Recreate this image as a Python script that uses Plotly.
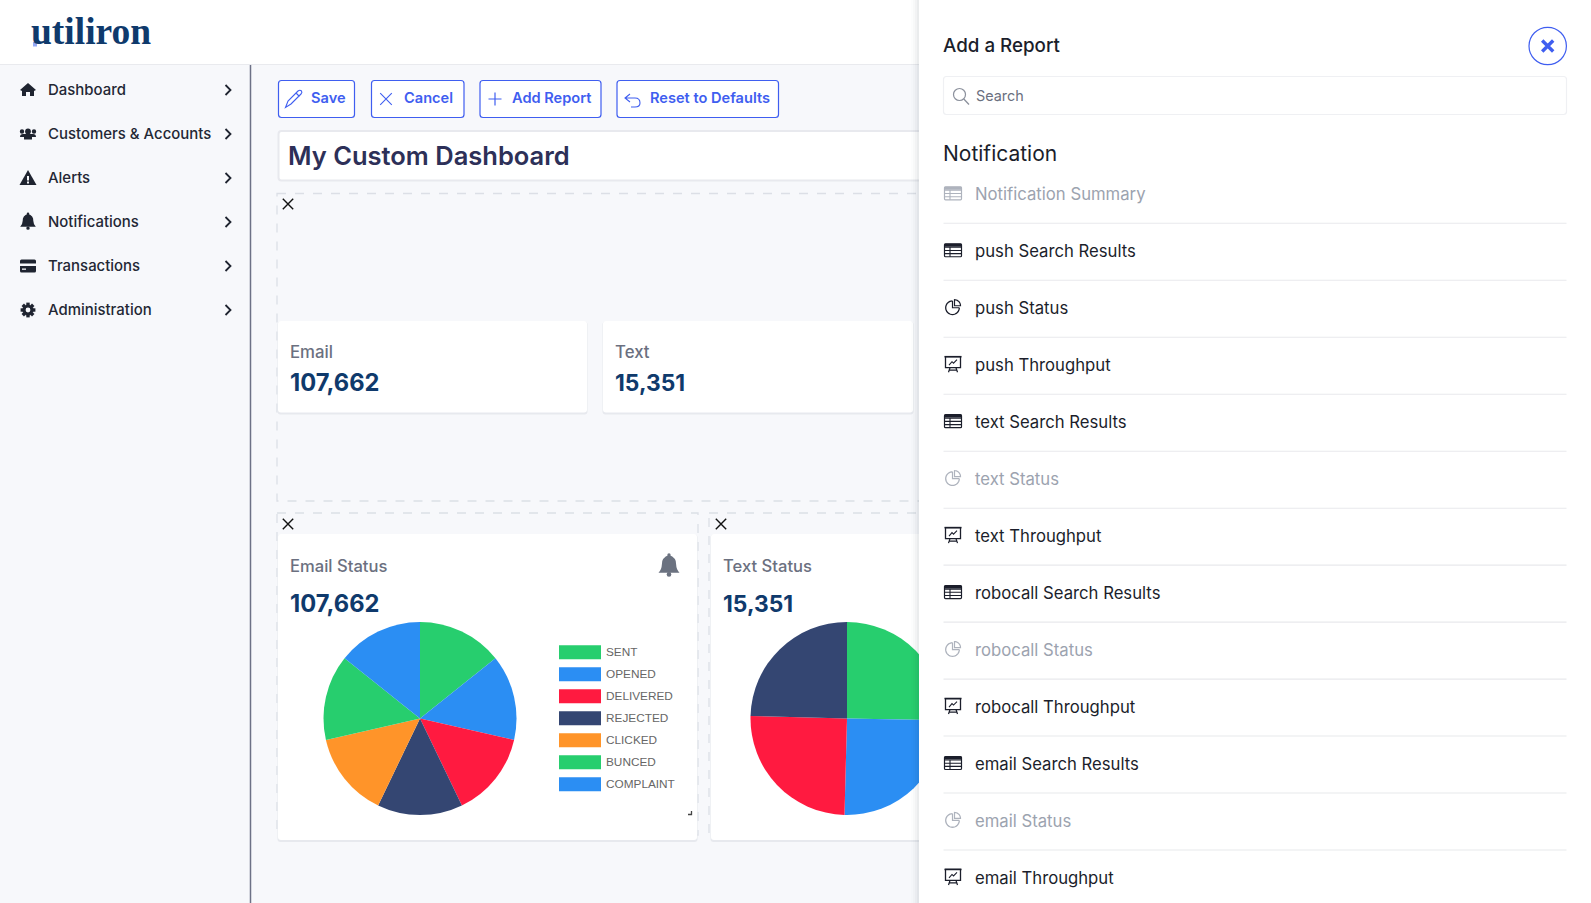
import math
import plotly.graph_objects as go

# ---------- data ----------
status_colors = ["#27ce6e", "#2b8ef3", "#ff1a40", "#344672", "#ff9429", "#27ce6e", "#2b8ef3"]
email_labels = ["SENT", "OPENED", "DELIVERED", "REJECTED", "CLICKED", "BUNCED", "COMPLAINT"]
email_values = [15380, 15380, 15380, 15380, 15380, 15381, 15381]
text_labels = ["SENT", "OPENED", "DELIVERED", "REJECTED"]
text_values = [3880, 3859, 3838, 3774]
text_colors = ["#27ce6e", "#2b8ef3", "#ff1a40", "#344672"]

nav_items = ["Dashboard", "Customers & Accounts", "Alerts", "Notifications", "Transactions", "Administration"]
nav_icons = ["home", "users", "alert", "bell", "card", "gear"]
buttons = ["Save", "Cancel", "Add Report", "Reset to Defaults"]
report_names = ["Notification Summary", "push Search Results", "push Status", "push Throughput",
                "text Search Results", "text Status", "text Throughput", "robocall Search Results",
                "robocall Status", "robocall Throughput", "email Search Results", "email Status",
                "email Throughput"]
report_kinds = ["table", "table", "pie", "chart", "table", "pie", "chart", "table", "pie", "chart",
                "table", "pie", "chart"]
report_muted = [True, False, False, False, False, True, False, False, True, False, False, True, False]

# ---------- style ----------
FONT = "Inter"
W, H = 1591, 903
BG = "#f7f8fb"
BLUE = "#3f5ef0"
NAVY = "#0f3a6c"
DARK = "#1b1e2b"
MUTED = "#9ca3af"
GREY = "#6b7080"

shapes, notes = [], []


def path(d, fill=None, line=None, w=1.0, layer="above", dash=None):
    shapes.append(dict(type="path", path=d, xref="x", yref="y", layer=layer,
                       fillcolor=fill or "rgba(0,0,0,0)",
                       line=dict(color=line or "rgba(0,0,0,0)", width=w if line else 0, dash=dash or "solid")))


def rect(x0, y0, x1, y1, fill=None, line=None, w=1.0, r=0, layer="below", dash=None):
    if r:
        d = (f"M{x0+r},{y0} H{x1-r} Q{x1},{y0} {x1},{y0+r} V{y1-r} Q{x1},{y1} {x1-r},{y1} "
             f"H{x0+r} Q{x0},{y1} {x0},{y1-r} V{y0+r} Q{x0},{y0} {x0+r},{y0} Z")
    else:
        d = f"M{x0},{y0} H{x1} V{y1} H{x0} Z"
    path(d, fill, line, w, layer, dash)


def circle(cx, cy, r, fill=None, line=None, w=1.0, layer="above", ry=None):
    ry = ry or r
    shapes.append(dict(type="circle", xref="x", yref="y", x0=cx-r, x1=cx+r, y0=cy-ry, y1=cy+ry, layer=layer,
                       fillcolor=fill or "rgba(0,0,0,0)",
                       line=dict(color=line or "rgba(0,0,0,0)", width=w if line else 0)))


def text(x, y, s, size, color, weight=400, family=FONT, anchor="left"):
    notes.append(dict(x=x, y=y, xref="x", yref="y", text=s, showarrow=False, xanchor=anchor, yanchor="middle",
                      font=dict(family=family, size=size, color=color, weight=weight),
                      xshift=0, yshift=0, borderpad=0, borderwidth=0))


def arc(cx, cy, r, a0, a1, n=24):
    pts = []
    for i in range(n + 1):
        a = math.radians(a0 + (a1 - a0) * i / n)
        pts.append((cx + r * math.sin(a), cy - r * math.cos(a)))
    return pts


def poly(pts, close=False):
    return "M" + " L".join(f"{x:.2f},{y:.2f}" for x, y in pts) + (" Z" if close else "")


def cross(cx, cy, s, color, w=1.5, layer="above"):
    path(f"M{cx-s},{cy-s} L{cx+s},{cy+s} M{cx+s},{cy-s} L{cx-s},{cy+s}", None, color, w, layer)


def bell(cx, cy, s, color, layer="above"):
    path(f"M{cx},{cy-s} Q{cx+s*0.72},{cy-s*0.75} {cx+s*0.68},{cy-s*0.1} Q{cx+s*0.7},{cy+s*0.4} {cx+s},{cy+s*0.68} "
         f"L{cx-s},{cy+s*0.68} Q{cx-s*0.7},{cy+s*0.4} {cx-s*0.68},{cy-s*0.1} Q{cx-s*0.72},{cy-s*0.75} {cx},{cy-s} Z",
         color, None, 0, layer)
    circle(cx, cy + s * 0.85, s * 0.22, color, layer=layer)
    circle(cx, cy - s, s * 0.16, color, layer=layer)


def nav_icon(kind, cx, cy):
    c = "#1f2430"
    if kind == "home":
        path(f"M{cx-8},{cy} L{cx},{cy-7} L{cx+8},{cy} L{cx+6},{cy+1} V{cy+6} H{cx+2} V{cy+2} H{cx-2} V{cy+6} H{cx-6} V{cy+1} Z", c)
    elif kind == "users":
        for dx, r in [(-6, 2.2), (6, 2.2), (0, 2.9)]:
            circle(cx + dx, cy - 2.5, r, c)
        path(f"M{cx-8},{cy+3} Q{cx-8},{cy} {cx-5},{cy} H{cx+5} Q{cx+8},{cy} {cx+8},{cy+3} H{cx+4} V{cy+5.5} H{cx-4} V{cy+3} Z", c)
    elif kind == "alert":
        path(f"M{cx},{cy-8} L{cx+8.5},{cy+7} H{cx-8.5} Z", c)
        path(f"M{cx-1},{cy-2} H{cx+1} V{cy+2.5} H{cx-1} Z", BG)
        path(f"M{cx-1},{cy+3.5} H{cx+1} V{cy+5.5} H{cx-1} Z", BG)
    elif kind == "bell":
        bell(cx, cy - 0.5, 7.8, c)
    elif kind == "card":
        rect(cx - 8, cy - 6.5, cx + 8, cy + 6.5, c, r=1.5, layer="above")
        rect(cx - 8, cy - 2.5, cx + 8, cy, BG, layer="above")
        rect(cx - 6, cy + 2.5, cx - 2, cy + 3.8, BG, layer="above")
    else:
        for k in range(8):
            a = math.radians(k * 45)
            sx, sy = math.sin(a), math.cos(a)
            path(f"M{cx+5*sx:.2f},{cy-5*sy:.2f} L{cx+7.4*sx:.2f},{cy-7.4*sy:.2f}", None, c, 3.4)
        circle(cx, cy, 5.6, c)
        circle(cx, cy, 2.4, BG)


def report_icon(kind, cx, cy, color):
    if kind == "table":
        rect(cx - 8.5, cy - 6.5, cx + 8.5, cy + 6.5, None, color, 1.2, r=1, layer="above")
        path(f"M{cx-8.5},{cy-3} H{cx+8.5} M{cx-8.5},{cy+0.2} H{cx+8.5} M{cx-8.5},{cy+3.4} H{cx+8.5} M{cx-3},{cy-3} V{cy+6.5}",
             None, color, 1.1)
        path(f"M{cx-8.5},{cy-6.5} H{cx+8.5} V{cy-3.5} H{cx-8.5} Z", color)
    elif kind == "pie":
        path(poly(arc(cx - 0.5, cy + 0.5, 6.8, 90, 360)), None, color, 1.3)
        path(poly([(cx - 0.5, cy + 0.5 - 6.8), (cx - 0.5, cy + 0.5), (cx + 6.3, cy + 0.5)]), None, color, 1.2)
        path(poly([(cx + 1.5, cy - 1.5)] + arc(cx + 1.5, cy - 1.5, 6, 0, 90, 10), True), None, color, 1.2)
    else:
        rect(cx - 7.5, cy - 7.5, cx + 7.5, cy + 3.5, None, color, 1.3, layer="above")
        path(f"M{cx-8.5},{cy-7.5} H{cx+8.5}", None, color, 1.6)
        path(f"M{cx-4},{cy+1} L{cx-1},{cy-2.5} L{cx+0.5},{cy-1} L{cx+4},{cy-4.5}", None, color, 1.1)
        path(f"M{cx-3},{cy+3.5} L{cx-4.5},{cy+8} M{cx+3},{cy+3.5} L{cx+4.5},{cy+8} M{cx-4},{cy+6} H{cx+4}", None, color, 1.2)


# ---------- page chrome ----------
rect(0, 0, W, H, BG)
rect(0, 0, W, 64, "#ffffff")
path(f"M0,64.5 H{W}", None, "#e9eaee", 1.2, "below")
path(f"M250.5,65 V{H}", None, "#6d7186", 1.5, "below")
text(31, 31, "utiliron", 37.5, NAVY, 700, "Liberation Serif")
rect(33, 42, 37, 46.5, "#93a9f7", layer="above")

for i, (name, kind) in enumerate(zip(nav_items, nav_icons)):
    y = 90 + i * 44
    nav_icon(kind, 28, y)
    text(48, y + 0.3, name, 14.95, "#232734", 500)
    path(f"M225.5,{y-5} L230.5,{y} L225.5,{y+5}", None, "#1f2430", 1.8)

# buttons
btn_boxes = [(278.5, 354.5), (371.5, 464), (480, 601), (617, 778.5)]
btn_text_x = [311, 404, 512, 650]
for (x0, x1), tx, name in zip(btn_boxes, btn_text_x, buttons):
    rect(x0, 80.5, x1, 117.5, "#ffffff", BLUE, 1.2, r=3)
    text(tx, 98.3, name, 14.6, BLUE, 600)
path("M285.5,107.5 L288,101 L298,91 Q300,89.5 301.5,91 Q302.5,92.5 301,94 L291,104 Z M296,93 L299.5,96.5", None, BLUE, 1.1)
cross(386, 99, 5.8, BLUE, 1.1)
path("M495,92.5 V105.5 M488.5,99 H501.5", None, BLUE, 1.2)
path("M630,94 L625,98 L630,102 M625,98 H635 Q640,98 640,103 Q640,107 635,107 H631", None, BLUE, 1.1)

# title
rect(278.5, 131, 925, 180.5, "#ffffff", "#e8e9ee", 2, r=3)
text(288, 155, "My Custom Dashboard", 25.5, "#2d3058", 600)

# dashed zones
DASH = "#dcdfe6"
rect(277, 193.5, 925, 501, None, DASH, 1.3, layer="below", dash="dash")
rect(277, 513, 698, 835, None, DASH, 1.3, layer="below", dash="dash")
rect(709, 513, 925, 835, None, DASH, 1.3, layer="below", dash="dash")
cross(288, 204, 5.2, "#111111", 1.4, "below")
cross(288, 524, 5.2, "#111111", 1.4, "below")
cross(721, 524, 5.2, "#111111", 1.4, "below")

# cards


def card(x0, y0, x1, y1):
    rect(x0 - 0.5, y0 + 0.5, x1 + 0.5, y1 + 2, "#e7e9ee", r=3)
    rect(x0, y0, x1, y1, "#ffffff", r=3)


card(278, 321, 587, 412.5)
card(603, 321, 913, 412.5)
card(278, 534, 697, 840)
card(711, 534, 925, 840)
text(290, 352, "Email", 16.8, GREY, 500)
text(289.5, 382, "107,662", 23.7, NAVY, 700)
text(615, 352, "Text", 16.8, GREY, 500)
text(615, 382, "15,351", 22.8, NAVY, 700)
text(290, 565.5, "Email Status", 16.6, GREY, 500)
text(289.5, 603, "107,662", 23.7, NAVY, 700)
text(723, 565.5, "Text Status", 16.6, GREY, 500)
text(723, 603, "15,351", 22.8, NAVY, 700)
bell(669, 565.5, 10.5, "#6b7280", "below")
path("M688,814.5 H691.5 V811", None, "#444444", 1.3, "below")

# pie legend (drawn from the status lists)
for i, (name, col) in enumerate(zip(email_labels, status_colors)):
    y = 652.3 + i * 22
    rect(559, y - 7, 601, y + 7, col, layer="below")
    text(606, y, name, 11.8, "#666666", 400, "Liberation Sans")

# ---------- side panel ----------
for k, op in enumerate([0.012, 0.018, 0.026, 0.036]):
    rect(911 + k * 2, 0, 919, H, f"rgba(40,50,70,{op})", layer="above")
rect(919, 0, W, H, "#ffffff", layer="above")
text(942.5, 45.5, "Add a Report", 18.8, DARK, 500)
circle(1547.7, 46, 18.7, "#ffffff", BLUE, 1.2)
cross(1547.7, 46, 5.5, BLUE, 3.4)
rect(943.5, 76.5, 1566.5, 114.5, "#ffffff", "#eff0f3", 1.2, r=3, layer="above")
circle(959.5, 94.5, 6, None, "#8b909c", 1.2)
path("M963.8,99 L969,104.5", None, "#8b909c", 1.3)
text(975.5, 95, "Search", 14.4, GREY, 400)
text(942.5, 153, "Notification", 21, DARK, 400)

for i, (name, kind, muted) in enumerate(zip(report_names, report_kinds, report_muted)):
    y = 194.3 + i * 56.97
    col = MUTED if muted else DARK
    report_icon(kind, 953, y - 1, col if not muted else "#aeb3bd")
    text(974.5, y, name, 16.7, col, 400)
    if i < len(report_names) - 1:
        path(f"M943.5,{y+29:.1f} H1566.5", None, "#e8e9ec", 1.1)

# ---------- figure ----------
fig = go.Figure()
fig.add_trace(go.Pie(labels=email_labels, values=email_values, sort=False, direction="clockwise", rotation=0,
                     marker=dict(colors=status_colors, line=dict(width=0)), textinfo="none", hoverinfo="label+percent",
                     showlegend=False, domain=dict(x=[323.5 / W, 516.5 / W], y=[1 - 815 / H, 1 - 622 / H])))
fig.add_trace(go.Pie(labels=text_labels, values=text_values, sort=False, direction="clockwise", rotation=0,
                     marker=dict(colors=text_colors, line=dict(width=0)), textinfo="none", hoverinfo="label+percent",
                     showlegend=False, domain=dict(x=[750.5 / W, 943.5 / W], y=[1 - 815 / H, 1 - 622 / H])))
fig.update_layout(width=W, height=H, margin=dict(l=0, r=0, t=0, b=0), paper_bgcolor=BG, plot_bgcolor="rgba(0,0,0,0)",
                  shapes=shapes, annotations=notes, showlegend=False,
                  xaxis=dict(range=[0, W], visible=False, fixedrange=True),
                  yaxis=dict(range=[H, 0], visible=False, fixedrange=True))
fig.write_html("out.html", config=dict(displayModeBar=False, responsive=False),
               post_script="document.body.style.margin='0';document.body.style.overflow='hidden';")
